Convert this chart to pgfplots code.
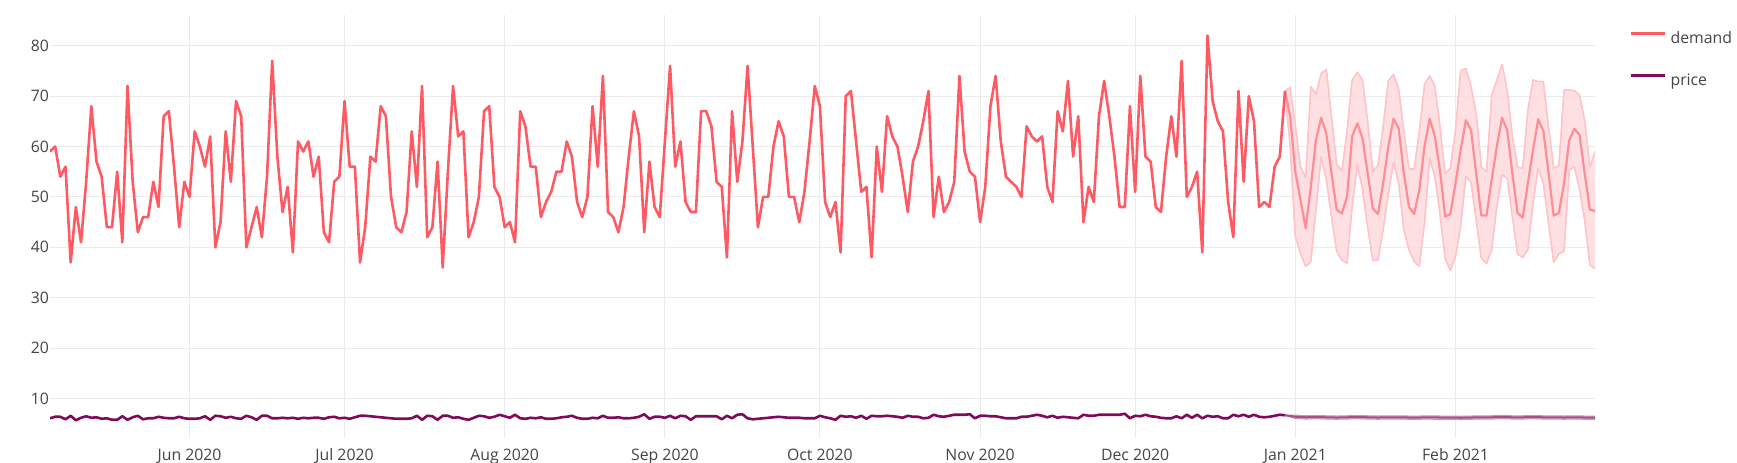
\documentclass[border=0pt]{standalone}
\usepackage{fontspec}
\setmainfont{Open Sans}
\usepackage{pgfplots}
\usepackage{pgfplotstable}
\pgfplotsset{compat=1.18}
\usepgfplotslibrary{fillbetween}
\definecolor{dem}{HTML}{FF5A64}
\definecolor{pri}{HTML}{7F0A5A}
\definecolor{gridc}{HTML}{EBEBEB}
\definecolor{txt}{HTML}{444444}
\definecolor{bandfill}{HTML}{FFDADD}
\definecolor{bandedge}{HTML}{FFC3C8}
\definecolor{fcline}{HTML}{FF8D95}
\definecolor{pbandfill}{HTML}{DDBBD0}
\definecolor{pbandedge}{HTML}{C795B5}
\definecolor{pfcline}{HTML}{A65087}

\pgfplotstableread[row sep=\\]{d v\\
125 59\\126 60\\127 54\\128 56\\129 37\\130 48\\131 41\\132 53\\133 68\\134 57\\
135 54\\136 44\\137 44\\138 55\\139 41\\140 72\\141 53\\142 43\\143 46\\144 46\\
145 53\\146 48\\147 66\\148 67\\149 56\\150 44\\151 53\\152 50\\153 63\\154 60\\
155 56\\156 62\\157 40\\158 45\\159 63\\160 53\\161 69\\162 66\\163 40\\164 44\\
165 48\\166 42\\167 54\\168 77\\169 58\\170 47\\171 52\\172 39\\173 61\\174 59\\
175 61\\176 54\\177 58\\178 43\\179 41\\180 53\\181 54\\182 69\\183 56\\184 56\\
185 37\\186 44\\187 58\\188 57\\189 68\\190 66\\191 50\\192 44\\193 43\\194 47\\
195 63\\196 52\\197 72\\198 42\\199 44\\200 57\\201 36\\202 55\\203 72\\204 62\\
205 63\\206 42\\207 45\\208 50\\209 67\\210 68\\211 52\\212 50\\213 44\\214 45\\
215 41\\216 67\\217 64\\218 56\\219 56\\220 46\\221 49\\222 51\\223 55\\224 55\\
225 61\\226 58\\227 49\\228 46\\229 50\\230 68\\231 56\\232 74\\233 47\\234 46\\
235 43\\236 48\\237 58\\238 67\\239 62\\240 43\\241 57\\242 48\\243 46\\244 61\\
245 76\\246 56\\247 61\\248 49\\249 47\\250 47\\251 67\\252 67\\253 64\\254 53\\
255 52\\256 38\\257 67\\258 53\\259 61\\260 76\\261 60\\262 44\\263 50\\264 50\\
265 60\\266 65\\267 62\\268 50\\269 50\\270 45\\271 51\\272 61\\273 72\\274 68\\
275 49\\276 46\\277 49\\278 39\\279 70\\280 71\\281 61\\282 51\\283 52\\284 38\\
285 60\\286 51\\287 66\\288 62\\289 60\\290 54\\291 47\\292 57\\293 60\\294 65\\
295 71\\296 46\\297 54\\298 47\\299 49\\300 53\\301 74\\302 59\\303 55\\304 54\\
305 45\\306 52\\307 68\\308 74\\309 61\\310 54\\311 53\\312 52\\313 50\\314 64\\
315 62\\316 61\\317 62\\318 52\\319 49\\320 67\\321 63\\322 73\\323 58\\324 66\\
325 45\\326 52\\327 49\\328 66\\329 73\\330 66\\331 58\\332 48\\333 48\\334 68\\
335 51\\336 74\\337 58\\338 57\\339 48\\340 47\\341 58\\342 66\\343 58\\344 77\\
345 50\\346 52\\347 55\\348 39\\349 82\\350 69\\351 65\\352 63\\353 49\\354 42\\
355 71\\356 53\\357 70\\358 65\\359 48\\360 49\\361 48\\362 56\\363 58\\364 71\\
}\demand

\pgfplotstableread[row sep=\\]{d m u l\\
364 71 71 71\\365 66 71.7 60\\366 55 64.3 42.1\\367 49.4 56 38.8\\368 43.8 53.8 36.2\\
369 52 71.9 37.2\\370 61.3 70.4 47.5\\371 65.7 74.5 58\\372 62.6 75.3 53.4\\373 54.7 66 46\\
374 47.5 56.5 39.2\\375 46.7 55.1 37.5\\376 50 63 36.8\\377 62 73.2 48\\378 64.6 74.7 56.5\\
379 61.6 73.2 51.4\\380 54.7 65 44\\381 47.7 55 37.4\\382 46.6 56.3 37.5\\383 52.7 64 43.5\\
384 60 73 50.7\\385 65.5 74.3 56.8\\386 63.6 71.4 52.7\\387 54.7 63 43.5\\388 48 55.6 39.5\\
389 46.6 55.5 37.2\\390 51.4 63 36.2\\391 60 72.3 44.8\\392 65.5 74 57.7\\393 62 72 54\\
394 55.2 63.9 46.5\\395 46.1 54.6 37.8\\396 46.6 55.7 35.4\\397 52.7 63.3 38.2\\398 59.3 75 44.1\\
399 65.2 75.5 54\\400 63.3 71.9 53\\401 54.7 66.6 45.4\\402 46.3 56 37.8\\403 46.3 55 36.8\\
404 53.4 70.2 39.5\\405 60 73.2 48.1\\406 65.7 76.3 54.4\\407 63.3 71.2 53.7\\408 54.7 62 46.1\\
409 46.8 55.9 38.7\\410 45.9 55.7 38\\411 52.7 67.2 39.5\\412 59.3 73.2 48.7\\413 65.4 72.9 55.7\\
414 63.1 72.9 52.7\\415 54.7 63.9 44.8\\416 46.3 55.7 37\\417 46.8 56.2 38.7\\418 52.7 71.2 39.2\\
419 61.2 71.2 55.3\\420 63.5 71.1 56\\421 62.3 70.2 51.4\\422 54.7 65.2 45.4\\423 47.5 55.9 36.5\\
424 47.2 59 35.8\\
}\demandfc

\pgfplotstableread[row sep=\\]{d v\\
125 6.1\\126 6.4\\127 6.4\\128 5.9\\129 6.6\\130 5.7\\131 6.2\\132 6.5\\133 6.2\\134 6.3\\
135 6.0\\136 6.1\\137 5.8\\138 5.8\\139 6.5\\140 5.8\\141 6.3\\142 6.6\\143 5.9\\144 6.1\\
145 6.1\\146 6.4\\147 6.2\\148 6.1\\149 6.1\\150 6.4\\151 6.1\\152 6.0\\153 6.0\\154 6.1\\
155 6.5\\156 5.8\\157 6.6\\158 6.5\\159 6.2\\160 6.4\\161 6.1\\162 6.0\\163 6.6\\164 6.3\\
165 5.8\\166 6.6\\167 6.6\\168 6.1\\169 6.1\\170 6.2\\171 6.1\\172 6.2\\173 6.0\\174 6.2\\
175 6.1\\176 6.2\\177 6.2\\178 6.0\\179 6.3\\180 6.4\\181 6.1\\182 6.2\\183 6.0\\184 6.3\\
185 6.6\\186 6.6\\187 6.5\\188 6.4\\189 6.3\\190 6.2\\191 6.1\\192 6.0\\193 6.0\\194 6.0\\
195 6.1\\196 6.6\\197 5.8\\198 6.6\\199 6.5\\200 5.8\\201 6.6\\202 6.6\\203 6.2\\204 6.3\\
205 6.0\\206 5.8\\207 6.2\\208 6.6\\209 6.5\\210 6.2\\211 6.4\\212 6.8\\213 6.5\\214 6.2\\
215 6.8\\216 6.1\\217 6.0\\218 6.2\\219 6.1\\220 6.3\\221 6.0\\222 6.0\\223 6.1\\224 6.3\\
225 6.4\\226 6.6\\227 6.2\\228 6.0\\229 6.0\\230 6.2\\231 6.1\\232 6.6\\233 6.2\\234 6.2\\
235 6.3\\236 6.1\\237 6.1\\238 6.2\\239 6.4\\240 6.9\\241 6.0\\242 6.4\\243 6.4\\244 6.2\\
245 6.6\\246 6.1\\247 6.6\\248 6.5\\249 5.8\\250 6.5\\251 6.5\\252 6.5\\253 6.5\\254 6.5\\
255 5.9\\256 6.6\\257 6.1\\258 6.8\\259 6.9\\260 6.1\\261 5.9\\262 6.0\\263 6.1\\264 6.2\\
265 6.3\\266 6.4\\267 6.3\\268 6.2\\269 6.2\\270 6.2\\271 6.1\\272 6.1\\273 6.1\\274 6.6\\
275 6.3\\276 6.1\\277 5.8\\278 6.6\\279 6.4\\280 6.5\\281 6.2\\282 6.6\\283 6.0\\284 6.6\\
285 6.5\\286 6.5\\287 6.6\\288 6.5\\289 6.4\\290 6.2\\291 6.6\\292 6.4\\293 6.4\\294 6.1\\
295 6.2\\296 6.8\\297 6.5\\298 6.4\\299 6.6\\300 6.8\\301 6.8\\302 6.8\\303 6.9\\304 6.1\\
305 6.6\\306 6.6\\307 6.5\\308 6.5\\309 6.3\\310 6.1\\311 6.1\\312 6.1\\313 6.4\\314 6.4\\
315 6.6\\316 6.8\\317 6.6\\318 6.3\\319 6.6\\320 6.2\\321 6.4\\322 6.3\\323 6.2\\324 6.1\\
325 6.8\\326 6.6\\327 6.6\\328 6.8\\329 6.8\\330 6.8\\331 6.8\\332 6.8\\333 7.0\\334 6.1\\
335 6.6\\336 6.5\\337 6.8\\338 6.5\\339 6.4\\340 6.2\\341 6.1\\342 6.1\\343 6.5\\344 6.1\\
345 6.8\\346 6.2\\347 6.8\\348 6.1\\349 6.6\\350 6.4\\351 6.5\\352 6.1\\353 6.1\\354 6.8\\
355 6.5\\356 6.8\\357 6.4\\358 6.8\\359 6.4\\360 6.3\\361 6.4\\362 6.6\\363 6.8\\364 6.7\\
}\price

\pgfplotstableread[row sep=\\]{d m u l\\
364 6.7 6.7 6.7\\366 6.4 6.75 6.05\\368 6.3 6.6 5.95\\370 6.35 6.65 6.0\\372 6.3 6.6 5.95\\
374 6.25 6.55 5.9\\376 6.3 6.6 5.95\\378 6.35 6.65 6.0\\380 6.3 6.6 5.95\\382 6.25 6.55 5.9\\
384 6.3 6.6 5.95\\386 6.3 6.6 5.95\\388 6.25 6.55 5.9\\390 6.25 6.55 5.9\\392 6.3 6.6 5.95\\
394 6.25 6.55 5.85\\396 6.25 6.55 5.9\\398 6.2 6.5 5.85\\400 6.25 6.55 5.9\\402 6.3 6.6 5.95\\
404 6.3 6.6 5.95\\406 6.35 6.7 6.0\\408 6.3 6.6 5.95\\410 6.3 6.6 5.95\\412 6.35 6.65 6.0\\
414 6.3 6.6 5.95\\416 6.3 6.6 5.95\\418 6.25 6.55 5.9\\420 6.3 6.6 5.95\\422 6.25 6.55 5.9\\
424 6.25 6.55 5.9\\
}\pricefc

\begin{document}
\begin{tikzpicture}
\begin{axis}[
  at={(50pt,25.4pt)}, anchor=south west,
  scale only axis, width=1545pt, height=422.1pt,
  xmin=125, xmax=424, ymin=2.27, ymax=85.98,
  axis line style={draw=none}, major tick length=0pt,
  xtick={152,182,213,244,274,305,335,366,397},
  xticklabels={Jun 2020,Jul 2020,Aug 2020,Sep 2020,Oct 2020,Nov 2020,Dec 2020,Jan 2021,Feb 2021},
  ytick={10,20,30,40,50,60,70,80},
  grid=major, grid style={gridc, line width=1pt},
  /pgf/number format/assume math mode=true,
  tick label style={font=\fontsize{15.8}{19}\selectfont, text=txt},
  yticklabel style={anchor=east, inner sep=0pt, xshift=-0.8pt},
  xticklabel style={anchor=north, inner sep=0pt, yshift=-11pt},
  legend style={at={(axis description cs:1.0225,0.9625)}, anchor=north west,
    draw=none, fill=none, inner sep=0pt, row sep=29pt,
    font=\fontsize{15.8}{19}\selectfont, text=txt,
    nodes={inner sep=0pt, anchor=west},
    /tikz/every odd column/.style={column sep=4pt}},
  legend cell align=left,
  legend image code/.code={\draw[#1,line width=2.6pt] (0pt,5pt) -- (34pt,5pt);},
  every axis plot/.append style={line join=round},
]
% demand forecast band
\addplot[name path=du, bandedge, line width=1.3pt, forget plot] table[x=d,y=u] {\demandfc};
\addplot[name path=dl, bandedge, line width=1.3pt, forget plot] table[x=d,y=l] {\demandfc};
\addplot[bandfill, fill opacity=0.85, draw=none, forget plot] fill between[of=du and dl];
\addplot[bandedge, line width=1.3pt, forget plot] table[x=d,y=u] {\demandfc};
\addplot[bandedge, line width=1.3pt, forget plot] table[x=d,y=l] {\demandfc};
\addplot[fcline, line width=2.2pt, forget plot] table[x=d,y=m] {\demandfc};
% history
\addplot[dem, line width=2.6pt] table[x=d,y=v] {\demand};
\addlegendentry{demand}
\addplot[pri, line width=2.6pt] table[x=d,y=v] {\price};
\addlegendentry{price}
% price forecast band
\addplot[name path=pu, pbandedge, line width=1pt, forget plot] table[x=d,y=u] {\pricefc};
\addplot[name path=pl, pbandedge, line width=1pt, forget plot] table[x=d,y=l] {\pricefc};
\addplot[pbandfill, draw=none, forget plot] fill between[of=pu and pl];
\addplot[pfcline, line width=2pt, forget plot] table[x=d,y=m] {\pricefc};
\end{axis}
\pgfresetboundingbox
\path[use as bounding box] (0pt,0pt) rectangle (1737pt,463pt);
\end{tikzpicture}
\end{document}
